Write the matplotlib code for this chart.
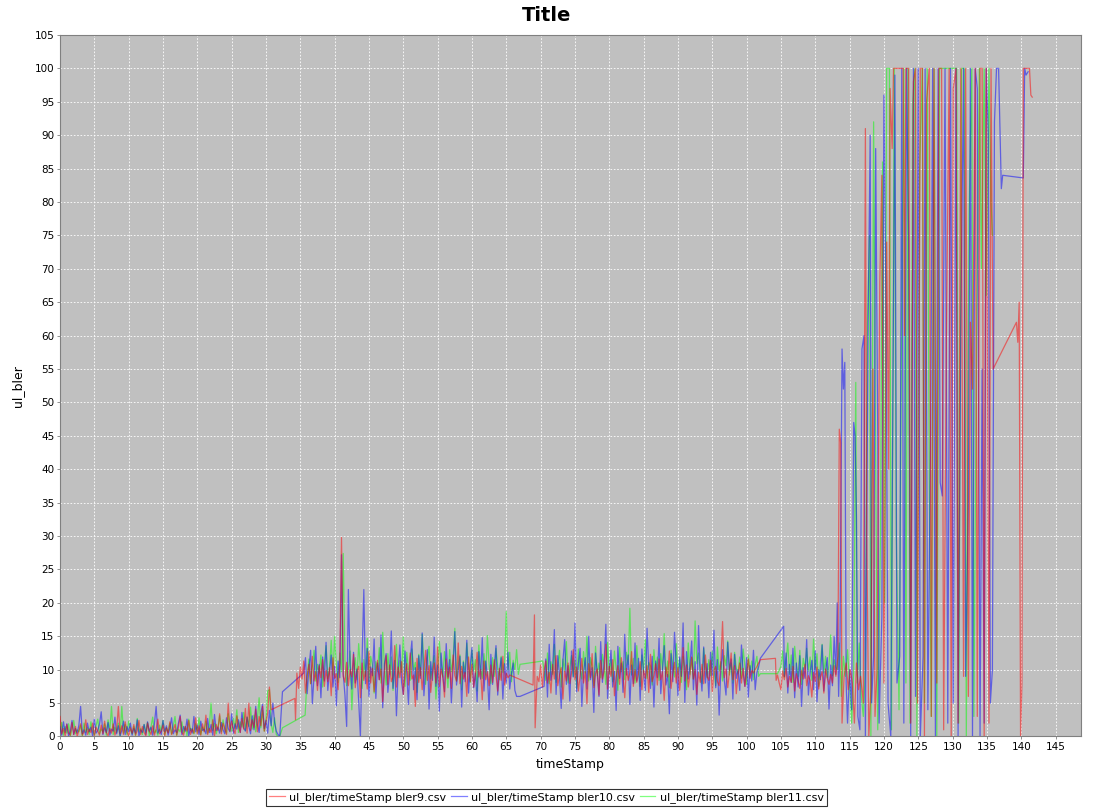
import numpy as np
import matplotlib.pyplot as plt

# sampling step of the noisy parts (s)
step = 0.25

# ---------------- ul_bler bler9 (red) ----------------
red_starts = [0.0, 34.5, 69.5, 104.5]
red_low = [3.0, 0.4, 1.2, 0.1, 1.8, 0.5, 0.2, 2.1, 0.3, 1.5, 0.0, 0.9, 1.9, 0.2, 0.7, 2.5,
           0.3, 1.1, 0.6, 2.0, 0.1, 1.4, 0.8, 0.2, 1.7, 0.4, 2.3, 0.6, 0.1, 1.2, 0.5, 1.9,
           0.2, 1.0, 4.5, 0.4, 1.6, 0.3, 2.2, 0.7, 0.1, 1.3, 0.5, 1.8, 0.2, 0.9, 2.4, 0.3,
           1.5, 0.6, 0.1, 2.0, 0.8, 0.3, 1.6, 0.2, 1.1, 2.6, 0.4, 0.8, 1.7, 0.1, 1.3, 0.5,
           2.2, 0.3, 0.9, 1.8, 0.2, 1.4, 3.0, 0.6, 0.2, 1.5, 0.8, 2.4, 0.3, 1.1, 0.5, 2.8,
           0.4, 1.6, 0.2, 1.9, 0.7, 3.2, 0.3, 1.2, 0.6, 2.5, 0.1, 1.8, 0.9, 3.4, 0.4, 2.0,
           1.2, 0.3, 5.0, 0.8, 2.3, 1.0, 0.4, 3.1, 1.5, 0.6, 2.7, 1.1, 4.2, 0.5, 5.0, 0.9,
           2.5, 1.3, 4.1, 0.7, 3.0, 1.6, 4.5, 0.8, 2.2, 3.5, 7.4, 4.0]
red_mid = [9.5, 7.2, 10.4, 8.6, 11.3, 6.5, 9.1, 10.8, 7.9, 12.0, 8.3, 9.7, 6.9, 10.6, 8.8, 11.5,
           7.5, 9.9, 8.2, 10.3, 6.1, 11.8, 8.7, 9.4, 7.0, 10.9, 29.8, 9.0, 8.1, 11.1, 7.6, 10.0,
           8.9, 12.3, 7.3, 9.6, 10.5, 5.8, 11.0, 8.4, 9.8, 7.1, 12.7, 8.0, 10.2, 6.7, 9.3, 11.4,
           8.5, 10.1, 5.2, 9.7, 12.1, 7.8, 10.7, 8.2, 9.0, 13.6, 7.4, 10.4, 8.8, 11.2, 6.3, 9.5,
           10.9, 7.7, 12.5, 8.6, 9.2, 4.5, 11.7, 8.1, 10.3, 7.0, 9.9, 12.9, 8.4, 10.6, 6.6, 9.4,
           11.0, 8.0, 13.4, 7.5, 10.1, 9.0, 5.9, 11.6, 8.7, 10.4, 7.2, 12.2, 9.1, 8.3, 14.0, 7.9,
           10.5, 8.6, 9.6, 6.0, 11.9, 8.2, 10.8, 7.4, 9.3, 12.6, 8.9, 10.0, 5.5, 11.3, 8.5, 9.7,
           7.6, 10.7, 8.1, 11.5, 9.2, 6.8, 10.2, 8.4, 12.0, 7.7, 9.5, 8.8, 9.2]
red_c = [9.0, 8.2, 10.7, 7.4, 9.9, 11.3, 8.0, 9.6, 6.5, 10.8, 8.6, 12.1, 7.6, 9.2, 10.3, 5.6,
         9.8, 8.3, 11.0, 7.9, 9.5, 13.0, 8.5, 10.4, 6.8, 9.1, 11.7, 8.0, 9.7, 4.9, 10.9, 8.8,
         12.4, 7.3, 9.4, 10.1, 6.2, 11.4, 8.6, 9.8, 13.8, 7.1, 10.5, 9.0, 11.5, 6.1, 8.9, 10.6,
         7.8, 11.8, 9.3, 5.8, 10.2, 8.4, 9.6, 12.7, 7.5, 10.0, 8.1, 9.4, 11.2, 7.0, 9.9, 8.7,
         10.6, 6.6, 12.3, 8.2, 9.1, 10.9, 7.7, 11.6, 8.5, 9.7, 5.4, 10.4, 8.9, 12.8, 7.2, 9.5,
         11.1, 8.0, 10.3, 6.9, 9.8, 13.3, 8.3, 10.7, 7.4, 9.2, 11.9, 8.6, 10.0, 6.3, 9.6, 8.1,
         10.8, 7.9, 12.2, 9.0, 8.4, 11.4, 6.7, 9.9, 10.5, 8.2, 7.6, 11.3, 17.2, 8.8, 10.1, 7.3,
         9.7, 12.5, 8.5, 10.6, 6.4, 9.3, 11.0, 8.0, 10.2, 7.5, 9.4, 11.6, 8.7, 9.9, 9.5]
red_d = [9.2, 8.0, 7.0, 9.8, 8.5, 10.2, 7.4, 9.0, 8.1, 10.5, 6.8, 9.4, 8.3, 7.2, 9.9, 8.6,
         10.8, 7.6, 9.1, 8.4, 5.9, 9.6, 8.2, 10.4, 7.1, 8.9, 9.7, 6.5, 10.1, 8.7, 7.8, 9.3,
         8.0, 10.6, 9.0]
red_extra = [(34.2, 5.7), (34.3, 2.5), (68.9, 7.7), (69.1, 18.2), (69.2, 1.3),
             (101.5, 10.5), (102.0, 11.5), (104.2, 11.7), (104.3, 8.4)]
red_spikes = [(113.3, 12), (113.5, 46), (113.7, 44), (113.9, 2), (114.2, 9), (114.5, 11),
              (114.8, 7), (115.1, 10), (115.4, 8), (115.7, 2), (116.0, 11), (116.3, 7),
              (116.6, 9), (117.0, 5), (117.3, 91), (117.5, 30), (117.8, 0), (118.1, 7),
              (118.4, 55), (118.7, 3), (119.0, 10), (119.4, 68), (119.7, 84), (120.0, 8),
              (120.4, 74), (120.7, 40), (120.9, 97), (121.2, 88), (121.4, 100), (122.8, 100),
              (123.0, 60), (123.2, 100), (123.6, 100), (123.9, 2), (124.3, 98), (124.6, 100),
              (124.9, 5), (125.3, 100), (125.6, 100), (125.9, 0), (126.2, 95), (126.6, 100),
              (126.9, 3), (127.3, 100), (127.7, 8), (128.0, 100), (128.4, 100), (128.7, 1),
              (129.1, 60), (129.5, 100), (129.8, 0), (130.1, 97), (130.5, 100), (130.8, 2),
              (131.2, 100), (131.6, 9), (131.9, 100), (132.3, 6), (132.6, 62), (132.9, 52),
              (133.3, 100), (133.6, 3), (134.0, 100), (134.3, 100), (134.6, 0), (134.9, 100),
              (135.3, 2), (135.6, 100), (135.9, 55), (139.3, 62), (139.5, 59), (139.7, 65),
              (139.9, 0), (140.1, 8), (140.3, 100), (141.2, 100), (141.4, 96), (141.6, 95.7)]

# ---------------- ul_bler bler10 (blue) ----------------
blue_starts = [0.0, 35.5, 70.5, 105.5]
blue_low = [1.5, 0.2, 2.2, 0.6, 1.9, 0.1, 0.8, 2.4, 0.3, 1.2, 0.5, 1.7, 4.5, 0.4, 1.0, 0.2,
            2.0, 0.7, 1.4, 0.1, 2.6, 0.5, 0.9, 1.8, 3.7, 0.3, 1.3, 0.6, 2.1, 0.2, 1.1, 0.8,
            2.9, 0.4, 1.6, 0.1, 0.9, 2.3, 0.3, 1.5, 0.7, 2.0, 0.2, 1.2, 0.5, 2.5, 0.1, 1.0,
            0.6, 1.8, 0.3, 2.2, 0.8, 1.4, 0.2, 1.9, 4.5, 0.5, 1.1, 0.3, 2.4, 0.7, 1.6, 0.2,
            1.3, 2.8, 0.4, 1.0, 0.6, 2.0, 3.2, 0.3, 1.5, 0.8, 2.6, 0.1, 1.2, 0.5, 3.0, 0.7,
            1.7, 0.3, 2.3, 0.9, 1.1, 0.4, 2.7, 0.6, 1.8, 0.2, 3.3, 0.9, 1.4, 0.5, 2.1, 1.0,
            0.4, 2.8, 1.2, 0.7, 3.4, 0.5, 1.9, 1.1, 2.5, 0.6, 3.6, 1.3, 0.8, 2.9, 1.5, 0.4,
            3.1, 1.0, 4.5, 1.8, 0.6, 3.5, 4.8, 1.2, 2.4, 0.5, 3.9, 1.6, 5.0, 2.1, 0.8, 0.3,
            0.0]
blue_mid = [9.5, 11.8, 6.4, 10.2, 12.9, 4.9, 9.0, 13.5, 7.6, 10.8, 5.8, 11.9, 8.3, 14.1, 6.9, 9.7,
            12.2, 7.4, 10.5, 4.6, 11.3, 8.8, 27.2, 9.4, 6.2, 1.5, 22.0, 10.6, 7.1, 12.6, 8.0, 10.1,
            5.3, 0.0, 11.7, 22.0, 7.9, 13.2, 6.0, 10.4, 9.1, 14.6, 5.7, 11.0, 8.5, 15.2, 4.3, 10.9,
            12.4, 6.6, 9.3, 15.8, 7.2, 11.4, 3.1, 10.0, 13.7, 8.1, 6.3, 12.8, 9.6, 4.8, 11.6, 14.3,
            7.0, 10.3, 5.5, 12.1, 8.7, 15.5, 6.1, 9.9, 13.0, 4.1, 11.2, 8.4, 14.9, 7.5, 10.7, 3.8,
            12.5, 9.2, 6.7, 13.9, 8.9, 11.5, 5.0, 10.2, 15.7, 7.7, 9.8, 12.0, 4.4, 11.1, 8.2, 14.4,
            6.5, 10.6, 13.3, 7.3, 9.5, 5.2, 12.7, 8.6, 14.8, 6.8, 11.3, 9.0, 4.0, 12.3, 7.8, 10.4,
            13.6, 6.2, 9.7, 11.8, 5.6, 10.9, 8.0, 12.6, 7.1, 9.4, 11.0, 6.9, 6.0]
blue_c = [7.5, 11.6, 5.9, 13.8, 8.4, 10.2, 16.0, 6.3, 12.1, 9.0, 4.2, 11.4, 14.5, 7.8, 10.6, 5.3,
          12.8, 8.9, 17.0, 6.7, 10.9, 13.2, 4.5, 9.6, 11.8, 7.1, 15.0, 8.5, 10.3, 3.6, 12.5, 9.4,
          6.0, 14.2, 8.1, 11.1, 16.8, 5.7, 10.0, 12.9, 7.4, 9.8, 3.9, 13.5, 8.7, 11.0, 6.6, 15.3,
          9.2, 12.2, 4.8, 10.7, 7.9, 14.0, 8.3, 11.7, 5.4, 13.1, 9.5, 6.9, 16.2, 10.4, 7.2, 12.0,
          4.4, 11.3, 8.8, 14.7, 6.4, 10.1, 13.6, 7.7, 9.3, 3.4, 12.4, 8.2, 15.6, 10.8, 6.1, 11.9,
          9.0, 17.0, 5.1, 12.7, 8.6, 10.5, 14.3, 7.0, 11.2, 4.7, 16.6, 9.7, 6.8, 13.4, 8.0, 10.9,
          5.8, 12.6, 9.1, 15.9, 7.3, 11.5, 3.2, 10.2, 13.0, 8.4, 6.2, 14.1, 9.9, 11.6, 5.6, 12.3,
          8.7, 10.0, 6.9, 13.7, 9.4, 7.5, 11.8, 5.9, 10.6, 8.3, 12.9, 7.0, 9.6, 10.4, 11.7]
blue_d = [9.0, 12.5, 6.5, 10.8, 8.1, 13.2, 5.8, 11.0, 7.4, 12.1, 4.5, 10.3, 8.7, 14.5, 6.2, 9.6,
          11.4, 7.0, 12.8, 5.2, 10.0, 8.5, 13.7, 6.8, 9.9, 11.8, 4.1, 10.7, 7.6, 15.0, 9.3]
blue_extra = [(32.4, 6.7), (67.0, 6.0), (105.4, 16.5)]
blue_spikes = [(113.2, 20), (113.4, 6), (113.6, 14), (113.9, 58), (114.1, 52), (114.3, 56),
               (114.5, 8), (114.7, 2), (115.0, 10), (115.3, 4), (115.6, 47), (115.8, 45),
               (116.0, 33), (116.2, 3), (116.5, 1), (116.8, 58), (117.1, 60), (117.3, 0),
               (117.7, 62), (118.0, 90), (118.2, 5), (118.5, 12), (118.8, 88), (119.1, 45),
               (119.3, 2), (119.7, 18), (120.0, 96), (120.3, 64), (120.6, 5), (121.0, 0),
               (121.6, 99), (121.9, 8), (122.3, 12), (122.6, 100), (122.9, 2), (123.3, 100),
               (123.6, 74), (123.9, 0), (124.3, 100), (124.6, 6), (125.0, 100), (125.3, 0),
               (125.7, 12), (126.0, 100), (126.4, 4), (126.8, 45), (127.1, 100), (127.5, 0),
               (127.9, 100), (128.2, 38), (128.5, 36), (128.9, 100), (129.3, 2), (129.7, 100),
               (130.1, 5), (130.5, 100), (130.8, 0), (131.2, 62), (131.6, 100), (131.9, 9),
               (132.3, 35), (132.6, 100), (132.9, 0), (133.3, 100), (133.6, 97), (134.0, 0),
               (134.3, 55), (134.6, 2), (134.9, 100), (135.2, 90), (135.5, 5), (135.8, 10),
               (136.1, 92), (136.4, 100), (136.7, 100), (137.1, 82), (137.3, 84),
               (140.3, 83.6), (140.5, 100), (140.7, 99), (141.0, 99.5)]

# ---------------- ul_bler bler11 (green) ----------------
green_starts = [0.0, 36.0, 70.5, 105.0]
green_low = [0.8, 2.1, 0.2, 1.5, 0.5, 1.9, 0.1, 1.2, 2.4, 0.4, 1.0, 0.7, 1.7, 0.1, 2.0, 0.6,
             1.3, 0.3, 2.2, 0.9, 0.2, 1.6, 2.6, 0.4, 1.1, 0.7, 1.9, 0.2, 2.5, 0.8, 4.5, 0.3,
             1.4, 0.6, 2.0, 0.1, 4.5, 0.5, 1.8, 0.3, 2.3, 1.0, 0.4, 1.5, 0.2, 2.7, 0.7, 1.2,
             0.3, 1.8, 0.6, 2.1, 0.1, 1.4, 2.9, 0.5, 1.0, 0.2, 1.7, 0.8, 2.4, 0.3, 1.3, 0.6,
             2.0, 0.4, 1.6, 3.0, 0.2, 1.1, 0.7, 2.2, 0.5, 1.5, 0.1, 2.6, 0.9, 1.2, 0.4, 1.9,
             0.6, 2.8, 0.3, 1.4, 0.8, 2.3, 0.5, 1.7, 5.0, 0.9, 2.0, 0.4, 1.3, 3.1, 0.7, 2.5,
             1.0, 0.5, 3.4, 1.6, 0.8, 2.7, 1.2, 4.0, 0.6, 2.2, 1.4, 3.6, 0.9, 2.9, 1.5, 4.4,
             1.1, 3.2, 0.7, 2.6, 5.8, 1.3, 3.9, 0.8, 2.4, 6.8, 7.0, 1.9, 0.6, 2.8, 0.3, 0.0]
green_mid = [9.0, 11.6, 7.9, 10.4, 12.9, 8.3, 10.8, 9.5, 12.2, 7.4, 11.0, 13.6, 8.7, 10.1, 14.4, 9.2,
             15.0, 10.6, 8.1, 12.5, 9.7, 27.4, 11.3, 7.6, 10.0, 12.8, 4.0, 9.4, 11.8, 8.5, 13.9, 10.3,
             7.2, 11.5, 9.0, 14.7, 8.2, 12.0, 10.7, 6.5, 11.2, 9.8, 13.3, 8.0, 15.6, 10.5, 7.7, 12.4,
             9.3, 11.9, 6.9, 10.2, 13.8, 8.8, 11.4, 9.6, 14.9, 7.5, 12.6, 10.0, 8.4, 13.1, 9.9, 11.1,
             6.6, 12.3, 9.1, 15.3, 10.8, 7.8, 11.7, 13.5, 8.6, 10.4, 12.1, 5.6, 9.5, 14.2, 11.0, 8.9,
             12.7, 10.1, 7.3, 13.0, 9.7, 11.6, 16.2, 8.3, 10.9, 12.2, 7.0, 11.3, 9.4, 14.0, 10.6, 8.1,
             12.9, 9.8, 11.5, 6.8, 13.7, 10.2, 8.7, 12.4, 9.2, 15.1, 10.7, 7.9, 11.8, 9.0, 13.2, 10.4,
             8.5, 12.0, 9.6, 11.2, 18.7, 9.9, 12.6, 8.2, 11.4, 10.0, 13.0, 9.3, 10.8]
green_c = [10.0, 8.4, 12.5, 7.9, 11.2, 9.3, 13.8, 8.1, 10.7, 12.9, 7.4, 11.6, 9.8, 14.2, 8.0, 10.3,
           12.1, 9.0, 11.4, 7.2, 13.1, 10.0, 8.6, 12.7, 9.5, 15.0, 8.3, 11.8, 10.4, 7.6, 13.5, 9.1,
           11.0, 8.8, 12.3, 10.6, 7.8, 14.1, 9.4, 11.5, 8.2, 12.8, 10.1, 6.9, 13.3, 9.7, 11.2, 8.5,
           12.6, 10.8, 19.2, 9.2, 11.7, 8.0, 13.6, 10.2, 7.5, 12.2, 9.6, 14.5, 8.7, 11.1, 10.5, 7.7,
           13.0, 9.9, 11.9, 8.4, 12.4, 10.0, 15.4, 9.0, 11.3, 7.3, 12.9, 10.7, 8.9, 13.9, 9.5, 11.6,
           8.1, 12.0, 10.3, 7.0, 14.0, 9.3, 11.8, 8.6, 17.3, 10.9, 12.5, 9.7, 7.9, 13.2, 10.4, 8.8,
           11.5, 9.1, 12.7, 10.0, 7.6, 13.4, 9.8, 11.2, 8.3, 12.1, 10.6, 14.3, 9.2, 11.0, 8.0, 12.6,
           10.2, 9.4, 11.9, 8.7, 13.1, 10.5, 7.8, 12.2, 9.6, 11.3, 8.5, 10.8, 12.0, 9.0, 9.4]
green_d = [10.5, 12.8, 8.9, 11.4, 14.0, 9.3, 12.2, 8.1, 13.5, 10.6, 9.0, 12.9, 7.8, 11.7, 10.2, 13.2,
           9.8, 11.9, 8.4, 14.6, 10.0, 12.4, 7.5, 11.1, 13.8, 9.5, 12.0, 8.8, 10.7, 15.2, 9.1, 11.5,
           10.3]
green_extra = [(32.0, 0.0), (32.4, 1.3), (35.7, 3.2), (70.3, 11.3), (104.5, 9.4)]
green_spikes = [(113.2, 10), (113.5, 14), (113.8, 6), (114.1, 12), (114.4, 9), (114.7, 13),
                (115.0, 8), (115.3, 2), (115.6, 10), (115.9, 53), (116.1, 8), (116.4, 14),
                (116.7, 6), (117.0, 3), (117.3, 10), (117.6, 62), (117.9, 75), (118.1, 0),
                (118.5, 92), (118.8, 40), (119.1, 1), (119.5, 30), (119.8, 86), (120.1, 20),
                (120.4, 100), (120.8, 100), (121.1, 1), (121.5, 100), (121.8, 30), (122.2, 4),
                (122.6, 66), (122.9, 100), (123.2, 8), (123.5, 100), (123.8, 2), (124.2, 95),
                (124.5, 100), (124.8, 0), (125.2, 85), (125.6, 100), (125.9, 5), (126.3, 100),
                (126.6, 40), (126.9, 3), (127.3, 100), (127.7, 0), (128.1, 100), (128.5, 100),
                (130.6, 100), (130.9, 2), (131.3, 100), (131.7, 100), (132.0, 0), (132.4, 78),
                (132.8, 100), (133.1, 3), (133.5, 60), (133.9, 100), (134.2, 70), (134.6, 100),
                (134.9, 66), (135.3, 100), (135.6, 80), (135.8, 75)]

labels = ["ul_bler/timeStamp bler9.csv", "ul_bler/timeStamp bler10.csv",
          "ul_bler/timeStamp bler11.csv"]


def build(starts, segments, extra, spikes):
    t, v = [], []
    for t0, seg in zip(starts, segments):
        t += [t0 + step * i for i in range(len(seg))]
        v += list(seg)
    for tt, vv in extra + spikes:
        t.append(tt)
        v.append(vv)
    order = np.argsort(t, kind="stable")
    return np.array(t)[order], np.array(v)[order]


series = [
    build(red_starts, [red_low, red_mid, red_c, red_d], red_extra, red_spikes),
    build(blue_starts, [blue_low, blue_mid, blue_c, blue_d], blue_extra, blue_spikes),
    build(green_starts, [green_low, green_mid, green_c, green_d], green_extra, green_spikes),
]
colors = ["#ff0000", "#0000ff", "#00ff00"]

fig = plt.figure(figsize=(10.93, 8.08), dpi=100)
ax = fig.add_axes([0.0549, 0.0885, 0.9341, 0.8682])
ax.set_facecolor("#c0c0c0")

# first series on top, like the original renderer
for i in [2, 1, 0]:
    t, v = series[i]
    ax.plot(t, v, color=colors[i], alpha=0.5, lw=0.9, label=labels[i], zorder=3 + (2 - i))

ax.set_xlim(0, 148.7)
ax.set_ylim(0, 105)
ax.set_xticks(np.arange(0, 146, 5))
ax.set_yticks(np.arange(0, 106, 5))
ax.grid(True, color="white", ls=(0, (2, 2)), lw=0.6)
ax.set_axisbelow(True)
for s in ax.spines.values():
    s.set_color("#808080")
ax.tick_params(direction="out", length=2, width=0.6, color="#808080", labelsize=7.5, pad=2)

ax.set_xlabel("timeStamp", fontsize=9, labelpad=4)
ax.set_ylabel("ul_bler", fontsize=9, labelpad=8)
fig.suptitle("Title", fontsize=14, fontweight="bold", y=0.992)

handles, labs = ax.get_legend_handles_labels()
handles, labs = handles[::-1], labs[::-1]
leg = ax.legend(handles, labs, loc="lower center", bbox_to_anchor=(0.5, 0.002),
                bbox_transform=fig.transFigure, ncol=3, fontsize=8, frameon=True,
                fancybox=False, handlelength=1.4, columnspacing=0.4, handletextpad=0.4,
                borderpad=0.3, borderaxespad=0)
leg.get_frame().set_edgecolor("black")
leg.get_frame().set_linewidth(0.8)

fig.savefig("out.png", dpi=100)
